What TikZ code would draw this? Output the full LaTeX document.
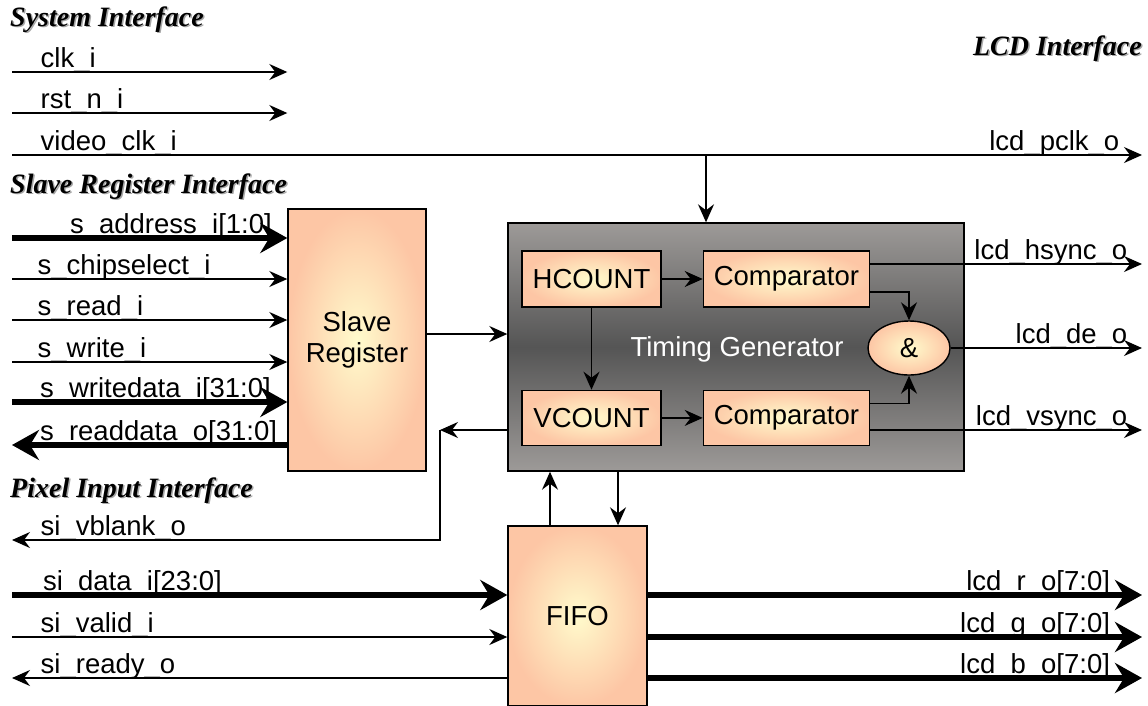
\documentclass[tikz,border=0pt]{standalone}
\usepackage{fontspec}
\setmainfont{Liberation Sans}
\newfontfamily\titlefont{Liberation Serif}
\usetikzlibrary{arrows.meta, shapes.geometric, positioning}
\definecolor{peach}{HTML}{FDC6A5}
\definecolor{cream}{HTML}{FFFBCC}
\definecolor{tgedge}{HTML}{9D9A98}
\definecolor{tgmid}{HTML}{555555}
\tikzstyle{block} = [rectangle, draw=black, line width=1.4pt, inner color=cream, outer color=peach, align=center]
\tikzstyle{tgbox} = [rectangle, draw=black, line width=1.4pt, top color=tgedge, bottom color=tgedge, middle color=tgmid]
\tikzstyle{gate} = [ellipse, draw=black, line width=1.4pt, inner color=cream, outer color=peach, minimum width=82pt, minimum height=54pt, inner sep=0pt]
\tikzstyle{sig} = [line width=1.4pt, -{Stealth[length=18pt,width=16pt,inset=6pt]}]
\tikzstyle{bus} = [line width=6pt, -{Stealth[length=27pt,width=30pt,inset=9pt]}]
\tikzstyle{lbl} = [anchor=base west, inner sep=0pt]
\tikzstyle{rlbl} = [anchor=base east, inner sep=0pt]
\tikzstyle{ifacetitle} = [anchor=base west, inner sep=0pt, font=\titlefont\bfseries\itshape\fontsize{28}{30}\selectfont]
\tikzstyle{titleshadow} = [ifacetitle, text=black!35]

\begin{document}
\begin{tikzpicture}[x=1pt, y=-1pt, every node/.append style={font=\fontsize{27.5}{31}\selectfont}]
    \useasboundingbox (0,0) rectangle (1148,705);

    % interface titles
    \node (systitle-sh) [titleshadow] at (11.5,27.5) {System Interface};
    \node (systitle) [ifacetitle] at (10,26) {System Interface};
    \node (lcdtitle-sh) [titleshadow, anchor=base east] at (1143.5,56.5) {LCD Interface};
    \node (lcdtitle) [ifacetitle, anchor=base east] at (1142,55) {LCD Interface};
    \node (slvtitle-sh) [titleshadow] at (11.5,194.5) {Slave Register Interface};
    \node (slvtitle) [ifacetitle] at (10,193) {Slave Register Interface};
    \node (pixtitle-sh) [titleshadow] at (11.5,498.5) {Pixel Input Interface};
    \node (pixtitle) [ifacetitle] at (10,497) {Pixel Input Interface};

    % blocks
    \node (slave) [block, minimum width=138pt, minimum height=262pt] at (357,340) {Slave\\Register};
    \node (timing) [tgbox, minimum width=456pt, minimum height=248pt] at (736,347) {};
    \node (tglabel) [text=white] at (737,349) {Timing Generator};
    \node (hcount) [block, minimum width=139pt, minimum height=56pt] at (591.5,279) {HCOUNT};
    \node (comph) [block, minimum width=166pt, minimum height=56pt, right=41pt of hcount] {Comparator};
    \node (vcount) [block, minimum width=139pt, minimum height=55pt, below=82pt of hcount] {VCOUNT};
    \node (compv) [block, minimum width=166pt, minimum height=55pt, right=41pt of vcount] {Comparator};
    \node (andgate) [gate] at (909,348) {\&};
    \node (fifo) [block, minimum width=139pt, minimum height=180pt] at (577.5,616) {FIFO};

    % free ends
    \coordinate (clk) at (12,72);
    \coordinate (rst) at (12,113);
    \coordinate (vclk) at (12,155);
    \coordinate (pclk) at (1142,155);
    \coordinate (saddr) at (12,238);
    \coordinate (swdata) at (12,402);
    \coordinate (srdata) at (12,445);
    \coordinate (hsync) at (1142,264);
    \coordinate (de) at (1142,348);
    \coordinate (vsync) at (1142,430);
    \coordinate (vbtip) at (440,430);
    \coordinate (vblank) at (12,540);
    \coordinate (sdata) at (12,595);
    \coordinate (svalid) at (12,637);
    \coordinate (sready) at (12,678);
    \coordinate (lcdr) at (1142,595);
    \coordinate (lcdg) at (1142,637);
    \coordinate (lcdb) at (1142,678);

    % system interface
    \draw [sig] (clk) node[lbl, xshift=28pt, yshift=5pt] {clk\_i} -- (clk -| slave.west);
    \draw [sig] (rst) node[lbl, xshift=28pt, yshift=5pt] {rst\_n\_i} -- (rst -| slave.west);
    \draw [sig] (vclk) node[lbl, xshift=28pt, yshift=5pt] {video\_clk\_i} -- (pclk) node[rlbl, xshift=-22pt, yshift=5pt] {lcd\_pclk\_o};
    \draw [sig] ([xshift=-30pt]timing.north |- vclk) -- ([xshift=-30pt]timing.north);

    % slave register interface
    \draw [bus] (saddr) node[lbl, xshift=55pt, yshift=5pt] {s\_address\_i[1:0]} -- (saddr -| slave.west);
    \foreach \y/\name in {279/s\_chipselect\_i, 320/s\_read\_i, 362/s\_write\_i}
        \draw [sig] (12,\y) node[lbl, xshift=25pt, yshift=5pt] {\name} -- (slave.west |- 0,\y);
    \draw [bus] (swdata) node[lbl, xshift=25pt, yshift=5pt] {s\_writedata\_i[31:0]} -- (swdata -| slave.west);
    \draw [bus] (slave.west |- srdata) -- (srdata) node[lbl, xshift=25pt, yshift=5pt] {s\_readdata\_o[31:0]};
    \draw [sig] ([yshift=6pt]slave.east) -- ([yshift=6pt]slave.east -| timing.west);

    % timing generator
    \draw [sig] (hcount) -- (comph);
    \draw [sig] (vcount) -- (compv);
    \draw [sig] (hcount) -- (vcount);
    \draw [sig] ([yshift=-13pt]comph.east) -| (andgate.north);
    \draw [sig] ([yshift=14.5pt]compv.east) -| (andgate.south);
    \draw [sig] (comph.east |- hsync) -- (hsync) node[rlbl, xshift=-14pt, yshift=5pt] {lcd\_hsync\_o};
    \draw [sig] (andgate) -- (de) node[rlbl, xshift=-14pt, yshift=5pt] {lcd\_de\_o};
    \draw [sig] (compv.east |- vsync) -- (vsync) node[rlbl, xshift=-14pt, yshift=5pt] {lcd\_vsync\_o};

    % pixel input interface
    \draw [sig] (timing.west |- vbtip) -- (vbtip);
    \draw [sig] (vbtip) |- (vblank) node[lbl, xshift=28pt, yshift=5pt] {si\_vblank\_o};
    \draw [sig] ([xshift=-27.5pt]fifo.north) -- ([xshift=-27.5pt]fifo.north |- timing.south);
    \draw [sig] ([xshift=40.5pt]fifo.north |- timing.south) -- ([xshift=40.5pt]fifo.north);
    \draw [bus] (sdata) node[lbl, xshift=28pt, yshift=5pt] {si\_data\_i[23:0]} -- (sdata -| fifo.west);
    \draw [sig] (svalid) node[lbl, xshift=28pt, yshift=5pt] {si\_valid\_i} -- (svalid -| fifo.west);
    \draw [sig] (fifo.west |- sready) -- (sready) node[lbl, xshift=28pt, yshift=5pt] {si\_ready\_o};
    \draw [bus] (fifo.east |- lcdr) -- (lcdr) node[rlbl, xshift=-29pt, yshift=5pt] {lcd\_r\_o[7:0]};
    \draw [bus] (fifo.east |- lcdg) -- (lcdg) node[rlbl, xshift=-29pt, yshift=5pt] {lcd\_g\_o[7:0]};
    \draw [bus] (fifo.east |- lcdb) -- (lcdb) node[rlbl, xshift=-29pt, yshift=5pt] {lcd\_b\_o[7:0]};
\end{tikzpicture}
\end{document}
